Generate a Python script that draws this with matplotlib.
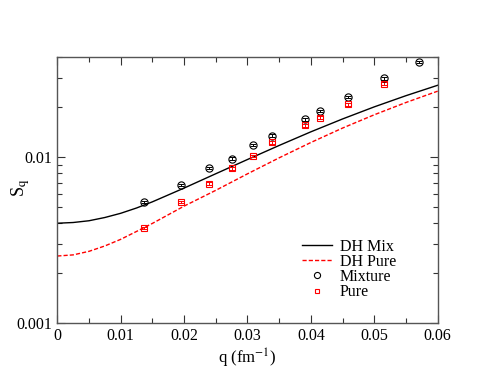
import matplotlib
matplotlib.use("Agg")
import matplotlib.pyplot as plt
from matplotlib.ticker import (MultipleLocator, LogLocator, FixedLocator,
                               FixedFormatter, NullFormatter, FuncFormatter)

# Debye-Hueckel curves
dh_q = [0.0, 0.0025, 0.005, 0.0075, 0.010, 0.0125, 0.015, 0.020, 0.025,
        0.030, 0.035, 0.040, 0.045, 0.050, 0.055, 0.060]
dh_mix = [0.00400, 0.00404, 0.00414, 0.00433, 0.00459, 0.00494, 0.00538,
          0.00651, 0.00794, 0.00967, 0.01175, 0.01419, 0.01696, 0.02005,
          0.02341, 0.02704]
dh_pure = [0.00254, 0.00258, 0.00271, 0.00292, 0.00320, 0.00357, 0.00399,
           0.00507, 0.00631, 0.00793, 0.00990, 0.01224, 0.01495, 0.01797,
           0.02130, 0.02492]

# simulation points
mix_q = [0.0137, 0.0195, 0.0239, 0.0276, 0.0309, 0.0338, 0.0390, 0.0414,
         0.0458, 0.0516, 0.0570]
mix_s = [0.00536, 0.00678, 0.00858, 0.00980, 0.01186, 0.01344, 0.01685,
         0.01893, 0.02298, 0.02975, 0.03735]
mix_err = [0.00010, 0.00012, 0.00015, 0.00018, 0.00020, 0.00024, 0.00030,
           0.00034, 0.00040, 0.00052, 0.00065]

pure_q = [0.0137, 0.0195, 0.0239, 0.0276, 0.0309, 0.0338, 0.0390, 0.0414,
          0.0458, 0.0516]
pure_s = [0.00375, 0.00536, 0.00693, 0.00854, 0.01018, 0.01224, 0.01550,
          0.01725, 0.02074, 0.02765]
pure_err = [0.00007, 0.00010, 0.00012, 0.00015, 0.00018, 0.00022, 0.00028,
            0.00031, 0.00037, 0.00048]

plt.rcParams["font.family"] = "Liberation Serif"
plt.rcParams["mathtext.fontset"] = "stix"

fig = plt.figure(figsize=(4.93, 3.81), dpi=100)
ax = fig.add_axes([0.1162, 0.1514, 0.7716, 0.699])

ax.plot(dh_q, dh_mix, color="black", lw=1.0, label="DH Mix")
ax.plot(dh_q, dh_pure, color="red", lw=1.0, ls=(0, (3, 1.5)), label="DH Pure")

ax.errorbar(mix_q, mix_s, yerr=mix_err, fmt="none", ecolor="black",
            elinewidth=0.7, capsize=2.2, capthick=0.7)
ax.errorbar(pure_q, pure_s, yerr=pure_err, fmt="none", ecolor="red",
            elinewidth=0.7, capsize=2.0, capthick=0.7)
ax.plot(mix_q, mix_s, ls="none", marker="o", ms=5.2, mfc="none",
        mec="black", mew=0.8, label="Mixture")
ax.plot(pure_q, pure_s, ls="none", marker="s", ms=4.2, mfc="none",
        mec="red", mew=0.8, label="Pure")

ax.set_yscale("log")
ax.set_xlim(0, 0.06)
ax.set_ylim(0.001, 0.04)

ax.xaxis.set_major_locator(MultipleLocator(0.01))
ax.xaxis.set_minor_locator(MultipleLocator(0.005))
ax.xaxis.set_major_formatter(FuncFormatter(lambda v, p: "0" if abs(v) < 1e-9 else f"{v:.2f}"))
ax.yaxis.set_major_locator(FixedLocator([0.001, 0.01]))
ax.yaxis.set_major_formatter(FixedFormatter(["0.001", "0.01"]))
ax.yaxis.set_minor_locator(LogLocator(base=10, subs=range(2, 10)))
ax.yaxis.set_minor_formatter(NullFormatter())

ax.tick_params(which="both", direction="in", top=True, right=True,
               labelsize=11.5, width=0.8, colors="#333333", labelcolor="black")
ax.tick_params(which="major", length=6)
ax.tick_params(which="minor", length=3.5)
for s in ax.spines.values():
    s.set_color("#555555")
    s.set_linewidth(1.0)

ax.set_xlabel(r"q (fm$^{\mathrm{-1}}$)", fontsize=12, labelpad=2)
ax.set_ylabel(r"S$_{\mathrm{q}}$", fontsize=13)
ax.yaxis.set_label_coords(-0.066, 0.51)

ax.legend(loc="upper left", bbox_to_anchor=(0.642, 0.318), frameon=False,
          fontsize=11.5, borderpad=0, handlelength=1.9, handletextpad=0.5,
          labelspacing=-0.05, borderaxespad=0, numpoints=1, markerscale=0.85)

fig.savefig("out.png", dpi=100)
